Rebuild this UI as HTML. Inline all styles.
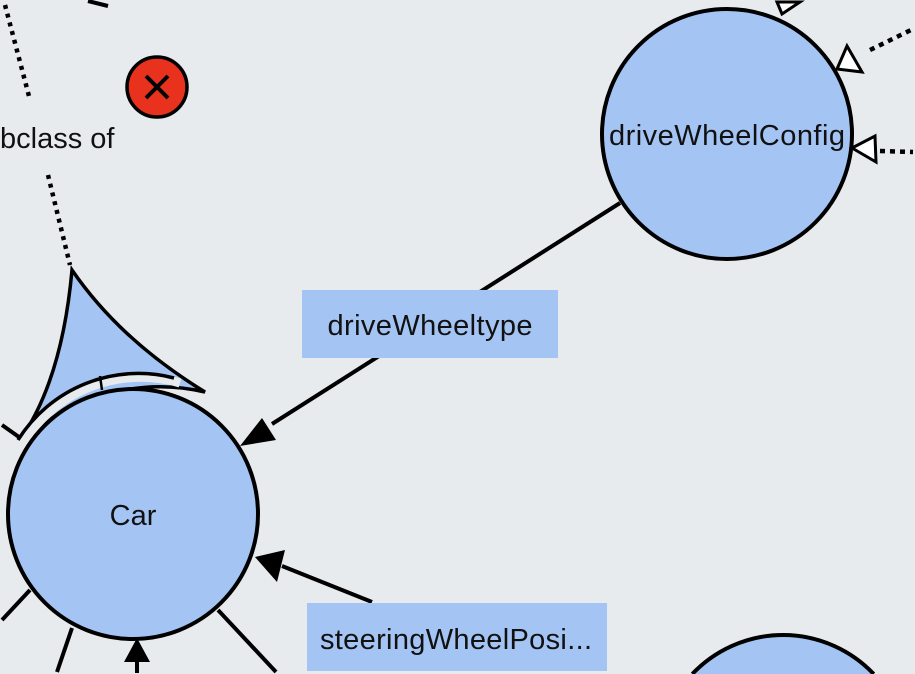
<!DOCTYPE html>
<html><head><meta charset="utf-8"><style>
html,body{margin:0;padding:0;background:#e8ebee;width:915px;height:674px;overflow:hidden}
svg{display:block;overflow:hidden}
text{font-family:"Liberation Sans",Arial,sans-serif;fill:#111}
</style></head><body>
<svg width="915" height="674" viewBox="0 0 915 674" xmlns="http://www.w3.org/2000/svg">
<rect width="915" height="674" fill="#e8ebee"/>
<line x1="88" y1="1" x2="108" y2="6" stroke="#000" stroke-width="4"/>
<line x1="5" y1="5" x2="30" y2="100" stroke="#000" stroke-width="4.5" stroke-dasharray="4,5"/>
<line x1="48" y1="175" x2="70" y2="265" stroke="#000" stroke-width="4.5" stroke-dasharray="4,5"/>
<text x="0" y="148" font-size="29">bclass of</text>
<circle cx="157" cy="87" r="30" fill="#e8321e" stroke="#000" stroke-width="3.5"/>
<path d="M146,76 L168,98 M168,76 L146,98" stroke="#000" stroke-width="4"/>
<path d="M620,203 L272,424" stroke="#000" stroke-width="4"/>
<path d="M240,446 L262,418 L276,440z" fill="#000"/>
<line x1="372" y1="602" x2="282" y2="566" stroke="#000" stroke-width="4"/>
<path d="M255,557 L285,550 L277,582z" fill="#000"/>
<line x1="30" y1="590" x2="2" y2="620" stroke="#000" stroke-width="4"/>
<line x1="72" y1="628" x2="57" y2="672" stroke="#000" stroke-width="4"/>
<line x1="137" y1="660" x2="137" y2="673" stroke="#000" stroke-width="4"/>
<path d="M137,638 L124,662 L150,662z" fill="#000"/>
<line x1="218" y1="610" x2="276" y2="672" stroke="#000" stroke-width="4"/>
<line x1="2" y1="425" x2="26" y2="442" stroke="#000" stroke-width="4"/>
<path d="M72,270 Q62,380 20,440 Q110,370 205,392 Q120,340 72,270z" fill="#a4c4f4" stroke="#000" stroke-width="3.5"/>
<path d="M22,445 A138,138 0 0 1 180,383" fill="none" stroke="#e8ebee" stroke-width="9"/>
<path d="M18,440 A142,142 0 0 1 174,378" fill="none" stroke="#000" stroke-width="3.5"/>
<line x1="100" y1="376" x2="102" y2="390" stroke="#000" stroke-width="2.5"/>
<circle cx="133" cy="514" r="125" fill="#a4c4f4" stroke="#000" stroke-width="4"/>
<text x="133" y="525" font-size="29" text-anchor="middle">Car</text>
<circle cx="727" cy="134" r="125" fill="#a4c4f4" stroke="#000" stroke-width="4"/>
<text x="727" y="145" font-size="29" text-anchor="middle" textLength="236">driveWheelConfig</text>
<line x1="870" y1="50" x2="913" y2="29" stroke="#000" stroke-width="4.5" stroke-dasharray="5,5"/>
<path d="M837,69 L847,46 L862,72z" fill="#fff" stroke="#000" stroke-width="3"/>
<line x1="880" y1="151" x2="913" y2="152" stroke="#000" stroke-width="4.5" stroke-dasharray="5,5"/>
<path d="M852,148 L875,136 L876,162z" fill="#fff" stroke="#000" stroke-width="3"/>
<path d="M777,2 L782,14 L800,2z" fill="#fff" stroke="#000" stroke-width="3"/>
<path d="M692.3,674 A125,125 0 0 1 873.7,674 Z" fill="#a4c4f4"/>
<path d="M692.3,674 A125,125 0 0 1 873.7,674" fill="none" stroke="#000" stroke-width="4"/>
<rect x="302" y="290" width="256" height="68" fill="#a4c4f4"/>
<text x="430" y="335" font-size="29" text-anchor="middle" textLength="205">driveWheeltype</text>
<rect x="307" y="603" width="300" height="68" fill="#a4c4f4"/>
<text x="456" y="649" font-size="29" text-anchor="middle" textLength="272">steeringWheelPosi...</text>
</svg>
</body></html>
